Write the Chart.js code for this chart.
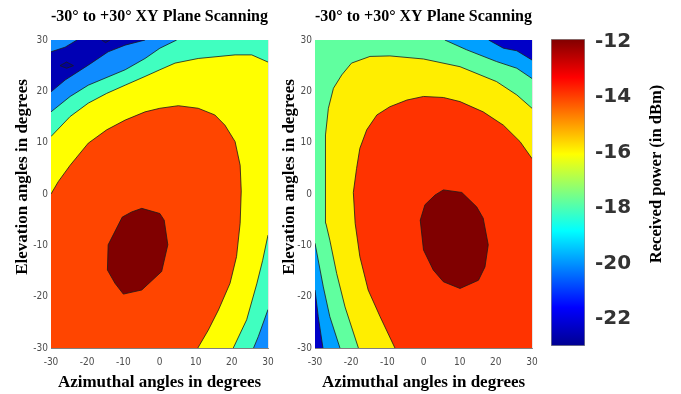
<!DOCTYPE html>
<html>
<head>
<meta charset="utf-8">
<script src="https://cdn.jsdelivr.net/npm/chart.js@4.4.1/dist/chart.umd.min.js"></script>
<style>
  html, body { margin: 0; padding: 0; background: #fff; }
  #wrap { position: relative; width: 681px; height: 394px; overflow: hidden; }
  .pane { position: absolute; top: 0; height: 394px; }
  #leftPane { left: 0; width: 280px; }
  #rightPane { left: 270px; width: 275px; }
  #barPane { left: 540px; width: 141px; }
</style>
</head>
<body>
<div id="wrap">
  <div class="pane" id="leftPane"><canvas id="leftChart"></canvas></div>
  <div class="pane" id="rightPane"><canvas id="rightChart"></canvas></div>
  <div class="pane" id="barPane"><canvas id="barChart"></canvas></div>
</div>
<script>
'use strict';

const TITLE = '-30\u00b0 to +30\u00b0 XY Plane Scanning';
const azimuthTicks = [-30, -20, -10, 0, 10, 20, 30];
const elevationTicks = [-30, -20, -10, 0, 10, 20, 30];
const powerTicks = [-22, -20, -18, -16, -14, -12];
const powerRange = [-22.97, -11.91];
const frame = [[-30, 30], [30, 30], [30, -30], [-30, -30]];

// Left panel contour lines, [azimuth, elevation] in degrees
const leftCornerLine = [[-30, 27.7], [-26.1, 28.6], [-22.8, 30]];
const leftTroughLine = [[-30, 19.9], [-26.1, 22.2], [-19.7, 25.1], [-14.2, 27.7], [-9.5, 29], [-4, 30]];
const leftBlueLine = [[-30, 16], [-24.7, 19], [-19.7, 21.2], [-9.5, 24.2], [-4, 26.4], [0.1, 28.4], [4.75, 30]];
const leftBlueLowLine = [[30, -22.5], [27.3, -27.8], [26, -30]];
const leftCyanLine = [[-30, 11.2], [-24.7, 15.1], [-19.7, 17.7], [-14.6, 19.6], [-9.5, 21.2], [-4, 22.9],
  [0.1, 24.2], [4.3, 25.5], [10.7, 26.4], [20.9, 27.1], [25.5, 27.1], [30, 25.7]];
const leftCyanLowLine = [[30, -8], [28.5, -13], [26.9, -17.5], [24.1, -24.5], [20.4, -30]];
const leftYellowLine = [[-30, 0], [-28, 2.4], [-24.7, 5.6], [-19.7, 9.9], [-14.6, 12.5], [-9.5, 14.4], [-4, 16],
  [0.1, 16.7], [5.2, 17.2], [10.7, 16.7], [15.3, 15.4], [18.1, 13.4], [20.9, 10.2], [22.3, 5.6], [22.6, 0.6],
  [22.3, -5.7], [21.3, -12.2], [19.5, -17.4], [16.3, -22.6], [13.5, -26.5], [10.6, -30]];
const leftPeak = [[-4.9, -2.8], [0.1, -3.8], [1.3, -5.1], [2.3, -9.9], [0.6, -15.1], [-4.9, -18.7], [-10, -19.5],
  [-12.3, -17.4], [-14.4, -14.8], [-14.2, -9.9], [-10.3, -4.5], [-7.7, -3.5]];
const leftDip = [[-27.5, 25], [-25.7, 25.7], [-23.8, 25], [-25.7, 24.5]];
const leftNotch = [[-16, 30], [-14.9, 29.5], [-13.7, 30]];

// Right panel contour lines
const rightDeepLine = [[18, 30], [22.1, 28.4], [25.8, 27.9], [30, 26.1]];
const rightDeepLowLine = [[-30, -18.7], [-29.1, -23.9], [-27.8, -30]];
const rightBlueLine = [[5.9, 30], [11.9, 28.1], [20.2, 25.8], [25.8, 24.5], [30, 22.5]];
const rightBlueLowLine = [[-30, -9.6], [-27.7, -18.1], [-25.9, -23.9], [-23.1, -30]];
const rightCyanLine = [[-18, -30], [-21.7, -22], [-24, -15.5], [-25.9, -9], [-27, -5.7], [-27.2, 0.5], [-27, 11.5],
  [-26.3, 16.7], [-24.9, 20.6], [-22.6, 23.2], [-19.9, 25.5], [-14.8, 26.8], [-9.3, 26.9], [0, 26.3],
  [10.1, 24.8], [20.2, 21.9], [25.8, 19.3], [30, 16.7]];
const rightYellowLine = [[-7.9, -30], [-12, -23.9], [-15.3, -18.7], [-17.6, -12.2], [-18.9, -5.7], [-19.4, 0.3],
  [-18.5, 5], [-17.6, 8.9], [-15.7, 12.5], [-12.9, 15.4], [-9.3, 17], [-4.6, 18.3], [0, 19], [5.5, 18.8],
  [10.1, 18], [16.5, 16], [22.1, 13.4], [26.7, 10.2], [30, 6.9]];
const rightPeak = [[5.5, 0.8], [10.6, 0.3], [14.7, -2.5], [16.5, -4.7], [17.9, -9.9], [17, -14.2], [15.2, -16.8],
  [10.1, -18.4], [5.5, -17.1], [2.7, -14.8], [0, -10.9], [-0.9, -5.1], [0.4, -2.1], [3.2, -0.2]];

const LEFT_COLORS = { deep: '#0000b4', dip: '#00009a', blue: '#0f8cff', cyan: '#40ffc0', yellow: '#ffff00', orange: '#ff4500', peak: '#800000' };
const RIGHT_COLORS = { deep: '#0000c8', blue: '#00a0ff', cyan: '#60ff9f', yellow: '#ffee00', orange: '#ff3300', peak: '#800000' };

const SERIF = "'Liberation Serif', 'Times New Roman', serif";
const TICK_FONT = { family: "'Liberation Sans Narrow', 'DejaVu Sans Condensed', 'Liberation Sans', sans-serif", size: 10 };
const AXIS_FONT = { family: SERIF, size: 17, weight: 'bold', lineHeight: 1.2 };
// leading en-spaces nudge the rotated title up, as in the original figure
const Y_TITLE = '\u2002\u2002\u2002\u2002Elevation angles in degrees';

const toPoints = (list) => list.map(([x, y]) => ({ x, y }));
const closed = (list) => list.concat([list[0]]);
const rev = (list) => list.slice().reverse();

function fillSet(poly, color, order) {
  return {
    data: toPoints(poly),
    backgroundColor: color,
    borderColor: 'transparent',
    borderWidth: 0,
    fill: 'shape',
    showLine: true,
    pointRadius: 0,
    tension: 0,
    order,
  };
}

function lineSet(line) {
  return {
    data: toPoints(line),
    borderColor: '#1a1a1a',
    borderWidth: 0.8,
    fill: false,
    showLine: true,
    pointRadius: 0,
    tension: 0,
    order: 0,
  };
}

/**
 * Filled contour panel: regions are stacked from lowest level to highest
 */
function createContourChart(canvas, regions, lines, box) {
  const datasets = regions.map((r, i) => fillSet(r.poly, r.color, 100 - i)).concat(lines.map(lineSet));

  return new Chart(canvas, {
    type: 'scatter',
    data: { datasets },
    options: {
      responsive: true,
      maintainAspectRatio: false,
      animation: false,
      events: [],
      layout: { padding: { left: box.padLeft, right: box.padRight, top: 0, bottom: 0 } },
      plugins: {
        legend: { display: false },
        tooltip: { enabled: false },
        title: {
          display: true,
          text: TITLE,
          fullSize: false,
          color: '#000',
          font: { family: SERIF, size: 17.5, weight: 'bold', lineHeight: 1.2 },
          padding: { top: 5.5, bottom: 13.5 },
        },
      },
      scales: {
        x: {
          type: 'linear',
          min: -30,
          max: 30,
          z: 1,
          afterBuildTicks: (scale) => { scale.ticks = azimuthTicks.map((value) => ({ value })); },
          afterFit: (scale) => {
            scale.height = 46;
            scale.paddingLeft = 0;
            scale.paddingRight = 0;
          },
          grid: { color: 'rgba(0,0,0,0.13)', lineWidth: 0.8, drawTicks: false },
          border: { color: '#808080', width: 1 },
          ticks: { padding: 8, color: '#4d4d4d', font: TICK_FONT, maxRotation: 0 },
          title: {
            display: true,
            text: 'Azimuthal angles in degrees',
            color: '#000',
            font: AXIS_FONT,
            padding: { top: 0, bottom: 1 },
          },
        },
        y: {
          type: 'linear',
          min: -30,
          max: 30,
          z: 1,
          afterBuildTicks: (scale) => { scale.ticks = elevationTicks.map((value) => ({ value })); },
          afterFit: (scale) => {
            scale.width = box.axisWidth;
            scale.paddingTop = 0;
            scale.paddingBottom = 0;
          },
          grid: { color: 'rgba(0,0,0,0.13)', lineWidth: 0.8, drawTicks: false },
          border: { color: '#808080', width: 1 },
          ticks: { padding: 3, color: '#4d4d4d', font: TICK_FONT },
          title: {
            display: true,
            text: Y_TITLE,
            color: '#000',
            font: AXIS_FONT,
            padding: { top: box.titlePad, bottom: 0 },
          },
        },
      },
    },
  });
}

const leftRegions = [
  { poly: frame, color: LEFT_COLORS.blue },
  { poly: leftCornerLine.concat(rev(leftTroughLine)), color: LEFT_COLORS.deep },
  { poly: leftBlueLine.concat([[30, 30]], leftBlueLowLine, [[-30, -30]]), color: LEFT_COLORS.cyan },
  { poly: leftCyanLine.concat(leftCyanLowLine, [[-30, -30]]), color: LEFT_COLORS.yellow },
  { poly: leftYellowLine.concat([[-30, -30]]), color: LEFT_COLORS.orange },
  { poly: leftPeak, color: LEFT_COLORS.peak },
  { poly: leftDip, color: LEFT_COLORS.dip },
  { poly: leftNotch, color: LEFT_COLORS.dip },
];
const leftLines = [leftCornerLine, leftTroughLine, leftBlueLine, leftBlueLowLine, leftCyanLine,
  leftCyanLowLine, leftYellowLine, closed(leftPeak), closed(leftDip), leftNotch];

const rightRegions = [
  { poly: frame, color: RIGHT_COLORS.deep },
  { poly: rightDeepLine.concat([[30, -30]], rev(rightDeepLowLine), [[-30, 30]]), color: RIGHT_COLORS.blue },
  { poly: rightBlueLine.concat([[30, -30]], rev(rightBlueLowLine), [[-30, 30]]), color: RIGHT_COLORS.cyan },
  { poly: rightCyanLine.concat([[30, -30]]), color: RIGHT_COLORS.yellow },
  { poly: rightYellowLine.concat([[30, -30]]), color: RIGHT_COLORS.orange },
  { poly: rightPeak, color: RIGHT_COLORS.peak },
];
const rightLines = [rightDeepLine, rightDeepLowLine, rightBlueLine, rightBlueLowLine, rightCyanLine,
  rightYellowLine, closed(rightPeak)];

createContourChart(document.getElementById('leftChart'), leftRegions, leftLines,
  { padLeft: 4, padRight: 12, axisWidth: 47, titlePad: 8 });
createContourChart(document.getElementById('rightChart'), rightRegions, rightLines,
  { padLeft: 0, padRight: 13, axisWidth: 45, titlePad: 9 });

// Colorbar (jet colormap)
const jetStops = [[0, '#000090'], [0.125, '#0000ff'], [0.375, '#00ffff'], [0.625, '#ffff00'], [0.875, '#ff0000'], [1, '#800000']];

const colorbarTitle = {
  id: 'colorbarTitle',
  afterDraw(chart) {
    const { ctx } = chart;
    ctx.save();
    ctx.translate(chart.width - 24, 174);
    ctx.rotate(-Math.PI / 2);
    ctx.font = `bold 16.5px ${SERIF}`;
    ctx.fillStyle = '#000';
    ctx.textAlign = 'center';
    ctx.textBaseline = 'middle';
    ctx.fillText('Received power (in dBm)', 0, 0);
    ctx.restore();
  },
};

new Chart(document.getElementById('barChart'), {
  type: 'bar',
  data: {
    labels: ['power'],
    datasets: [{
      data: [powerRange],
      backgroundColor: (context) => {
        const { chart } = context;
        if (!chart.chartArea) return jetStops[0][1];
        const y = chart.scales.y;
        const g = chart.ctx.createLinearGradient(0, y.getPixelForValue(powerRange[0]), 0, y.getPixelForValue(powerRange[1]));
        jetStops.forEach(([p, c]) => g.addColorStop(p, c));
        return g;
      },
      borderColor: '#8a8a8a',
      borderWidth: 1,
      borderSkipped: false,
      barPercentage: 1,
      categoryPercentage: 1,
    }],
  },
  options: {
    responsive: true,
    maintainAspectRatio: false,
    animation: false,
    events: [],
    layout: { padding: { left: 11, right: 0, top: 39, bottom: 48 } },
    plugins: { legend: { display: false }, tooltip: { enabled: false } },
    scales: {
      x: { display: false },
      y: {
        position: 'right',
        min: powerRange[0],
        max: powerRange[1],
        afterBuildTicks: (scale) => { scale.ticks = powerTicks.map((value) => ({ value })); },
        afterFit: (scale) => { scale.width = 96; },
        grid: { display: false, drawTicks: false },
        border: { display: false },
        ticks: { padding: 10, color: '#333', font: { family: "'DejaVu Sans', sans-serif", size: 20, weight: 'bold' } },
      },
    },
  },
  plugins: [colorbarTitle],
});
</script>
</body>
</html>
